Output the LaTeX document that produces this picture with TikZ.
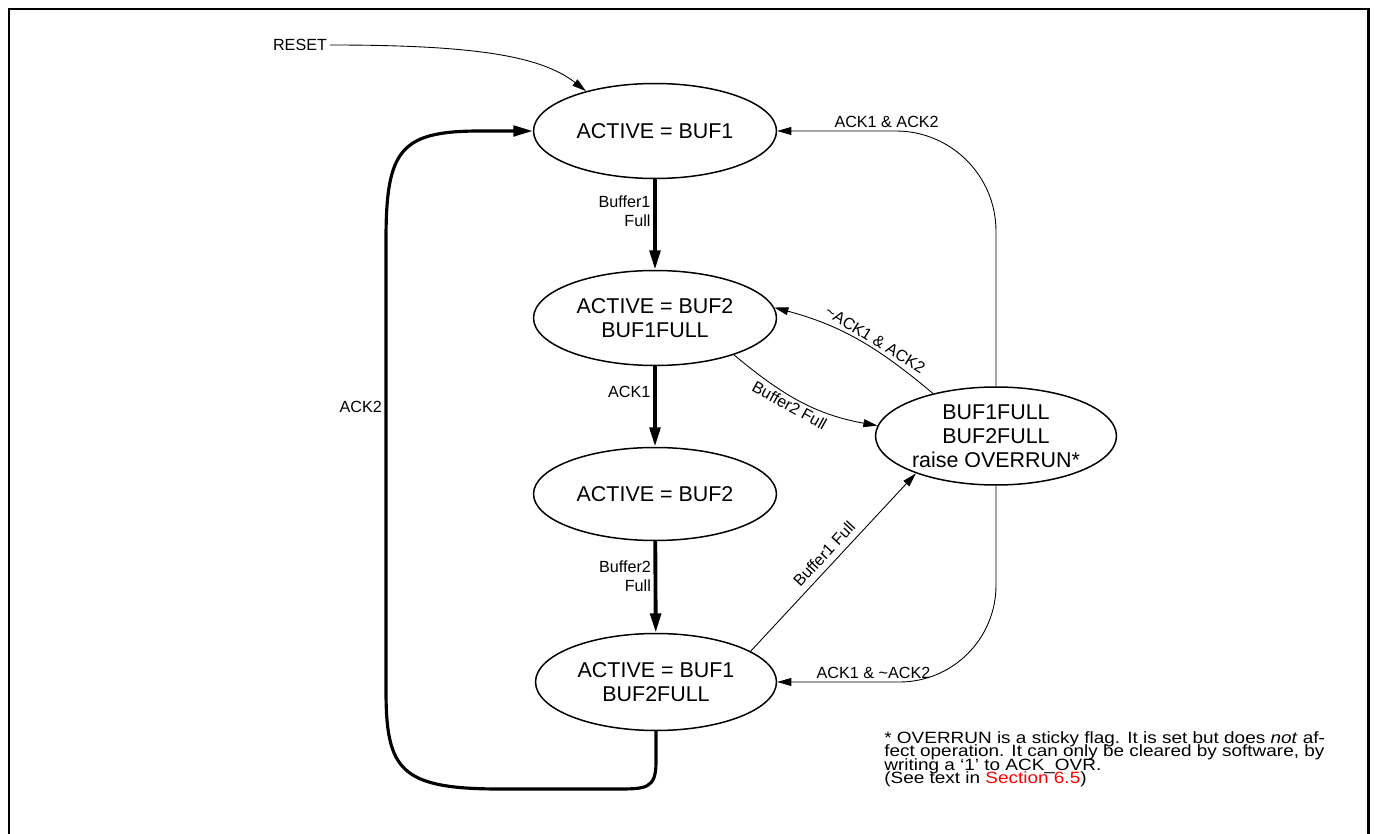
\documentclass[tikz,border=0pt]{standalone}
\usepackage{fontspec}
\setmainfont{Liberation Sans}
\newfontfamily\notefont[FakeStretch=1.16]{Liberation Sans}
\usetikzlibrary{arrows.meta,shapes.geometric,positioning,calc}
\setlength{\lineskiplimit}{-10pt}

\begin{document}
\begin{tikzpicture}[
  x=0.02cm, y=-0.02cm,
  state/.style={draw, ellipse, line width=0.85pt, inner sep=-12pt, align=center,
                font=\fontsize{12.2}{13.6}\selectfont},
  lbl/.style={font=\fontsize{9.2}{10.8}\selectfont, inner sep=1.5pt},
  bigar/.style={-{Triangle[length=11pt,width=6pt]}, line width=2.2pt},
  ar/.style={-{Triangle[length=8pt,width=4.5pt]}, line width=0.5pt}
]
\useasboundingbox (0,0) rectangle (1377,834);
\draw[line width=1.7pt] (9,834) -- (9,9) -- (1368,9) -- (1368,834);

% states
\node[state, minimum width=4.86cm, minimum height=1.9cm] (buf1) at (655,131) {ACTIVE = BUF1};
\node[state, minimum width=4.86cm, minimum height=1.9cm] (buf2full1) at (655,318)
     {ACTIVE = BUF2\\BUF1FULL};
\node[state, minimum width=4.86cm, minimum height=1.86cm] (buf2) at (655,494) {ACTIVE = BUF2};
\node[state, minimum width=4.82cm, minimum height=1.94cm] (buf1full2) at (656,682)
     {ACTIVE = BUF1\\BUF2FULL};
\node[state, minimum width=4.82cm, minimum height=1.96cm] (overrun) at (996,436)
     {BUF1FULL\\BUF2FULL\\raise OVERRUN*};

\node[lbl] (reset) at (300,45) {RESET};
\draw[ar] (reset.east) .. controls (470,45) and (540,55) .. (buf1.150);

% main sequence
\draw[bigar] (buf1) -- node[lbl, left, align=right, pos=0.35] {Buffer1\\Full} (buf2full1);
\draw[bigar] (buf2full1) -- node[lbl, left, pos=0.32] {ACK1} (buf2);
\draw[bigar] (buf2) -- node[lbl, left, align=right, pos=0.38] {Buffer2\\Full} (buf1full2);
\draw[bigar, line width=1.8pt] (buf1full2.south) -- (656,762)
     .. controls (656,789) and (646,789) .. (616,789) -- (500,789)
     .. controls (400,789) and (386,770) .. (386,690)
     -- node[lbl, left, pos=0.63] {ACK2} (386,240)
     .. controls (386,150) and (400,131) .. (480,131) -- (buf1.west);

% overrun
\draw[ar, rounded corners=57pt] (overrun.north) |- node[lbl, above, pos=0.75] {ACK1 \& ACK2} (buf1.east);
\draw[ar, rounded corners=55pt] (overrun.south) |- node[lbl, above, pos=0.78]
     {ACK1 \& \textasciitilde ACK2} (buf1full2.east);
\draw[ar] (buf2full1.-25) to[out=-40, in=170] node[lbl, sloped, below, pos=0.45] {Buffer2 Full} (overrun.175);
\draw[ar] (overrun.146) to[out=140, in=-15] node[lbl, sloped, above, pos=0.42]
     {\textasciitilde ACK1 \& ACK2} (buf2full1.5);
\draw[ar] (buf1full2.18) -- node[lbl, sloped, above=2pt, pos=0.5] {Buffer1 Full} (overrun.205);

\node[anchor=north west, align=left, inner sep=0pt, font=\notefont\fontsize{9.3}{7.7}\selectfont]
     (note) at (884,731)
     {* OVERRUN is a sticky flag. It is set but does \textit{not} af-\\
      fect operation. It can only be cleared by software, by\\
      writing a ‘1’ to ACK\_OVR.\\
      (See text in \textcolor{red}{Section 6.5})};
\end{tikzpicture}
\end{document}
